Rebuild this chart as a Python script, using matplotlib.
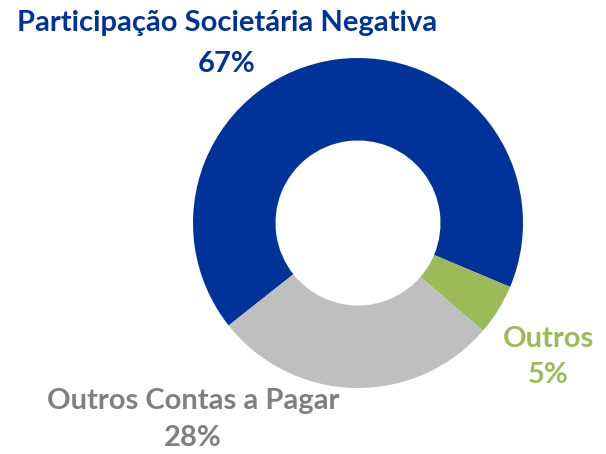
import matplotlib
matplotlib.use("Agg")
import matplotlib.pyplot as plt

categories = ["Participação Societária Negativa", "Outros", "Outros Contas a Pagar"]
values = [67, 5, 28]
pct_labels = ["67%", "5%", "28%"]
colors = ["#003399", "#9BBB59", "#BFBFBF"]
text_colors = ["#003399", "#9BBB59", "#7F7F7F"]

W, H = 606, 454
fig = plt.figure(figsize=(W / 100, H / 100), dpi=100)
ax = fig.add_axes([0, 0, 1, 1])

cx, cy, R = 358, H - 223, 165
ax.pie(values, colors=colors, startangle=218.4, counterclock=False,
       center=(cx, cy), radius=R, frame=True,
       wedgeprops=dict(width=R * 0.5, edgecolor="none"))
ax.set_xlim(0, W)
ax.set_ylim(0, H)
ax.set_aspect("equal")
ax.axis("off")

# (x centre, name baseline, pct baseline) in pixels from top
label_pos = [(227, 31, 72), (548, 347, 383), (193, 409, 446)]
font = dict(family=["Lato", "DejaVu Sans"], fontweight="bold", fontsize=21)
for name, pct, (x, y1, y2), c in zip(categories, pct_labels, label_pos, text_colors):
    ax.text(x, H - y1, name, color=c, ha="center", va="baseline", **font)
    ax.text(x, H - y2, pct, color=c, ha="center", va="baseline", **font)

fig.savefig("out.png", dpi=100)
